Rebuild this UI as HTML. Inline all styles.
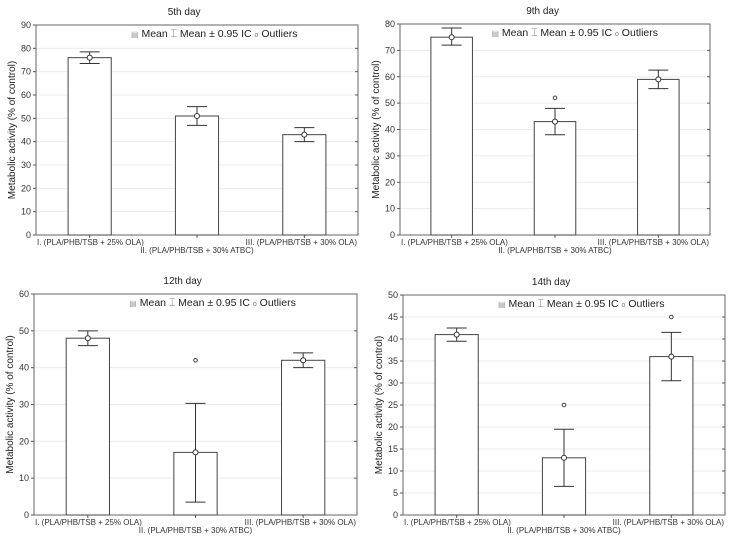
<!DOCTYPE html>
<html><head><meta charset="utf-8"><style>
body{margin:0;background:#fff;width:735px;height:544px;overflow:hidden}
svg{display:block;font-family:"Liberation Sans",Arial,sans-serif}
</style></head><body>
<svg id="c" width="735" height="544" viewBox="0 0 735 544"></svg>
<script>
const categories=["I. (PLA/PHB/TSB + 25% OLA)","II. (PLA/PHB/TSB + 30% ATBC)","III. (PLA/PHB/TSB + 30% OLA)"];
const titles=["5th day","9th day","12th day","14th day"];
const means5=[76,51,43], lo5=[73.5,47,40], hi5=[78.5,55,46], out5=[null,null,null];
const means9=[75,43,59], lo9=[72,38,55.5], hi9=[78.5,48,62.5], out9=[null,52,null];
const means12=[48,17,42], lo12=[46,3.5,40], hi12=[50,30.3,44], out12=[null,42,null];
const means14=[41,13,36], lo14=[39.5,6.5,30.5], hi14=[42.5,19.5,41.5], out14=[null,25,45];
const ticks5=[0,10,20,30,40,50,60,70,80,90];
const ticks9=[0,10,20,30,40,50,60,70,80];
const ticks12=[0,10,20,30,40,50,60];
const ticks14=[0,5,10,15,20,25,30,35,40,45,50];
const panels=[
 {t:titles[0],m:means5,lo:lo5,hi:hi5,o:out5,ticks:ticks5,x0:36,x1:358,y0:25,y1:235},
 {t:titles[1],m:means9,lo:lo9,hi:hi9,o:out9,ticks:ticks9,x0:400,x1:710,y0:24,y1:235},
 {t:titles[2],m:means12,lo:lo12,hi:hi12,o:out12,ticks:ticks12,x0:34,x1:357,y0:294,y1:515},
 {t:titles[3],m:means14,lo:lo14,hi:hi14,o:out14,ticks:ticks14,x0:403,x1:725,y0:295,y1:515}
];
const NS="http://www.w3.org/2000/svg";
const svg=document.getElementById('c');
function el(tag,attrs,parent,text){const e=document.createElementNS(NS,tag);for(const k in attrs)e.setAttribute(k,attrs[k]);if(text!==undefined)e.textContent=text;(parent||svg).appendChild(e);return e;}
panels.forEach((p,pi)=>{
 const g=el('g',{});
 
 
 const max=p.ticks[p.ticks.length-1];
 const y=v=>p.y1-(v/max)*(p.y1-p.y0);
 const W=p.x1-p.x0;
 const xc=i=>p.x0+W*(2*i+1)/6;
 const bw=W*0.134;
 p.ticks.forEach(t=>{
  if(t>0&&t<max){const gl=el('line',{x1:p.x0,x2:p.x1,y1:y(t),y2:y(t),stroke:'#ececec','stroke-width':1},g);
   }
  const tk=el('line',{x1:p.x0-3,x2:p.x0,y1:y(t),y2:y(t),stroke:'#555'},g);
  
  const rt=el('line',{x1:p.x1-3,x2:p.x1,y1:y(t),y2:y(t),stroke:'#555'},g);
  
  const tl=el('text',{x:p.x0-5,y:y(t)+3,'font-size':9,'text-anchor':'end',fill:'#333'},g,String(t));
  
 });
 const box=el('rect',{x:p.x0,y:p.y0,width:W,height:p.y1-p.y0,fill:'none',stroke:'#666','stroke-width':1},g);
 
 const tt=el('text',{x:p.x0+W*0.46,y:p.y0-10,'font-size':10,'text-anchor':'middle',fill:'#222'},g,p.t);
 
 const yl=el('text',{x:0,y:0,'font-size':10,'text-anchor':'middle',fill:'#222',transform:`translate(${p.x0-21},${(p.y0+p.y1)/2}) rotate(-90)`},g,'Metabolic activity (% of control)');
 
 const lg=el('text',{x:p.x0+W*0.295,y:p.y0+12,'font-size':10.5,fill:'#222'},g);
 
 lg.innerHTML='<tspan fill="#999" font-size="8">▤</tspan>  Mean  <tspan fill="#777">⌶</tspan>  Mean ± 0.95 IC  <tspan fill="#777" font-size="7">o</tspan>   Outliers';
 categories.forEach((c,i)=>{
  const cx=xc(i);
  const tk=el('line',{x1:cx,x2:cx,y1:p.y1,y2:p.y1+3,stroke:'#555'},g);
  
  const b=el('rect',{x:cx-bw/2,y:y(p.m[i]),width:bw,height:p.y1-y(p.m[i]),fill:'#fff',stroke:'#444','stroke-width':1},g);
  
  const e1=el('line',{x1:cx,x2:cx,y1:y(p.lo[i]),y2:y(p.hi[i]),stroke:'#333'},g);
  
  [p.lo[i],p.hi[i]].forEach(v=>{const cap=el('line',{x1:cx-10,x2:cx+10,y1:y(v),y2:y(v),stroke:'#333'},g);
   });
  const mc=el('circle',{cx:cx,cy:y(p.m[i]),r:2.5,fill:'#fff',stroke:'#333'},g);
  
  if(p.o[i]!=null){const oc=el('circle',{cx:cx,cy:y(p.o[i]),r:1.8,fill:'#fff',stroke:'#444'},g);
   }
  const anchor=i==0?'start':(i==2?'end':'middle');
  const lx=i==0?p.x0+1:(i==2?p.x1-1:cx);
  const ly=i==1?p.y1+18:p.y1+10;
  const xl=el('text',{x:lx,y:ly,'font-size':8,'text-anchor':anchor,fill:'#333'},g,c);
  
 });
});
</script>
</body></html>
